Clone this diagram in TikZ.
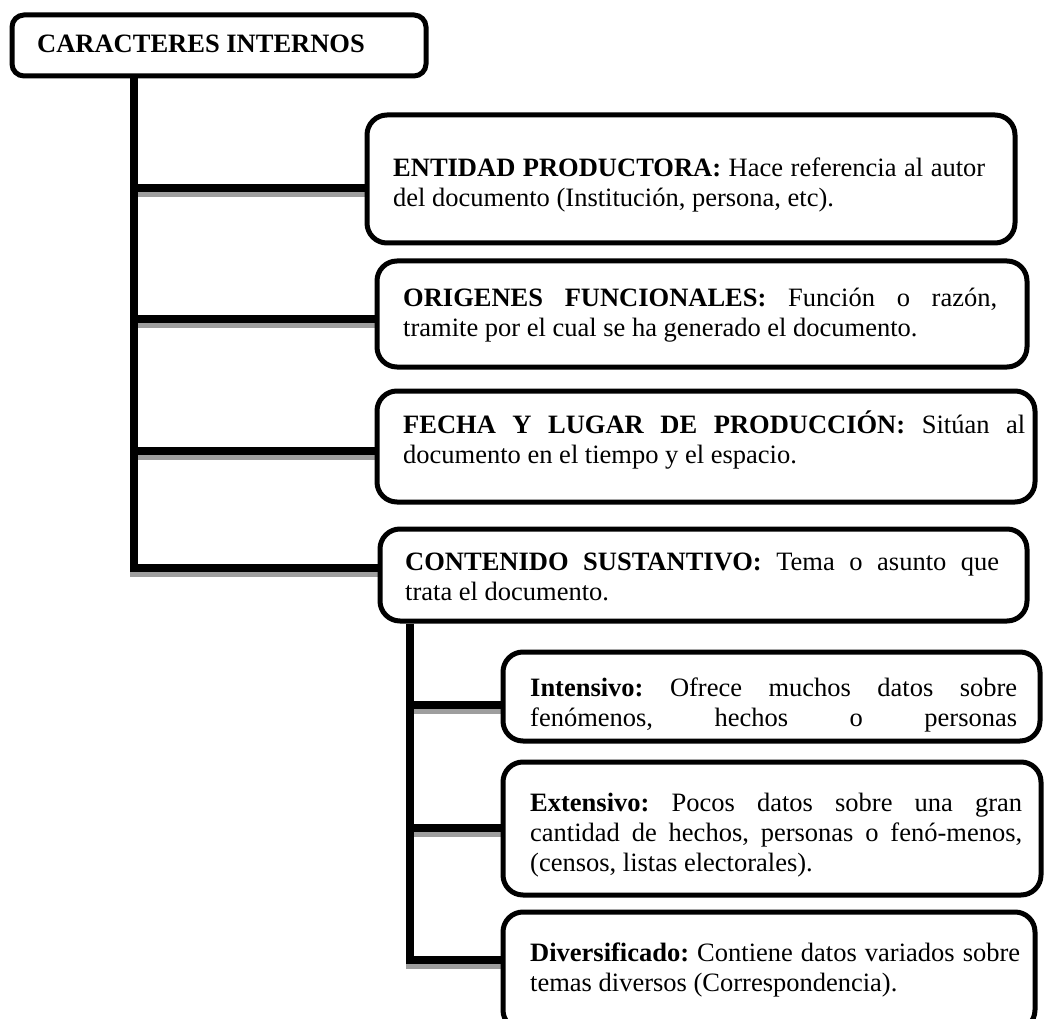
\documentclass[tikz,border=0pt]{standalone}
\usepackage{fontspec}
\setmainfont{Liberation Serif}
\usetikzlibrary{backgrounds}
% a line stretched to the full text width of its node
\newcommand\jl[1]{\makebox[\hsize][s]{#1}}
\begin{document}
\begin{tikzpicture}[x=1pt,y=-1pt,
  frame/.style={draw=black, line width=5pt, rounded corners=20pt, fill=white, inner sep=0pt},
  txt/.style={inner sep=0pt, anchor=base west, align=justify,
    font=\fontsize{26.5}{30}\selectfont\frenchspacing},
  trunk/.style={draw=black, line width=8pt},
  trunkshade/.style={draw=black!38, line width=8pt, transform canvas={yshift=-5pt}}]
\useasboundingbox (0,0) rectangle (1045,1019);
\clip (0,0) rectangle (1045,1019);

% boxes
\node[frame, rounded corners=12pt, minimum width=414pt, minimum height=61pt] (top) at (219,45.5) {};
\node[frame, minimum width=648pt, minimum height=128pt] (b1) at (691,179) {};
\node[frame, minimum width=650pt, minimum height=106pt] (b2) at (702,314) {};
\node[frame, minimum width=658pt, minimum height=111pt] (b3) at (706,446.5) {};
\node[frame, minimum width=647pt, minimum height=92pt] (b4) at (703.5,575) {};
\node[frame, minimum width=537pt, minimum height=89pt] (b5) at (771.5,696.5) {};
\node[frame, minimum width=538pt, minimum height=133pt] (b6) at (772,828.5) {};
\node[frame, minimum width=532pt, minimum height=118pt] (b7) at (769,971) {};

% texts
\node[txt, align=left] (t0) at (37,53) {\textbf{CARACTERES INTERNOS}};
\node[txt, text width=592pt] (t1) at (393,177)
  {\jl{\textbf{ENTIDAD PRODUCTORA:} Hace referencia al autor}\\ del documento (Institución, persona, etc).};
\node[txt, text width=594pt] (t2) at (403,307)
  {\jl{\textbf{ORIGENES FUNCIONALES:} Función o razón,}\\ tramite por el cual se ha generado el documento.};
\node[txt, text width=622pt] (t3) at (403,433)
  {\jl{\textbf{FECHA Y LUGAR DE PRODUCCIÓN:} Sitúan al}\\ documento en el tiempo y el espacio.};
\node[txt, text width=594pt] (t4) at (405,570)
  {\jl{\textbf{CONTENIDO SUSTANTIVO:} Tema o asunto que}\\ trata el documento.};
\node[txt, text width=487pt] (t5) at (530,696)
  {\jl{\textbf{Intensivo:} Ofrece muchos datos sobre}\\ \jl{fenómenos, hechos o personas}};
\node[txt, text width=492pt] (t6) at (530,811)
  {\jl{\textbf{Extensivo:} Pocos datos sobre una gran}\\ \jl{cantidad de hechos, personas o fenó-menos,}\\ (censos, listas electorales).};
\node[txt, text width=490pt] (t7) at (530,961)
  {\jl{\textbf{Diversificado:} Contiene datos variados sobre}\\ temas diversos (Correspondencia).};

% junction points of the two trunks
\coordinate (k0) at (134,568);
\coordinate (j1) at (134,188);
\coordinate (j2) at (134,319);
\coordinate (j3) at (134,451);
\coordinate (k1) at (410,960);
\coordinate (j5) at (410,705);
\coordinate (j6) at (410,828);

\begin{pgfonlayer}{background}
  \foreach \s in {trunkshade, trunk} {
    \path[\s] (top.south -| k0) -- (k0) -- (b4.west |- k0);
    \path[\s] (j1) -- (b1.west |- j1);
    \path[\s] (j2) -- (b2.west |- j2);
    \path[\s] (j3) -- (b3.west |- j3);
    \path[\s] (b4.south -| k1) -- (k1) -- (b7.west |- k1);
    \path[\s] (j5) -- (b5.west |- j5);
    \path[\s] (j6) -- (b6.west |- j6);
  }
\end{pgfonlayer}
\end{tikzpicture}
\end{document}
